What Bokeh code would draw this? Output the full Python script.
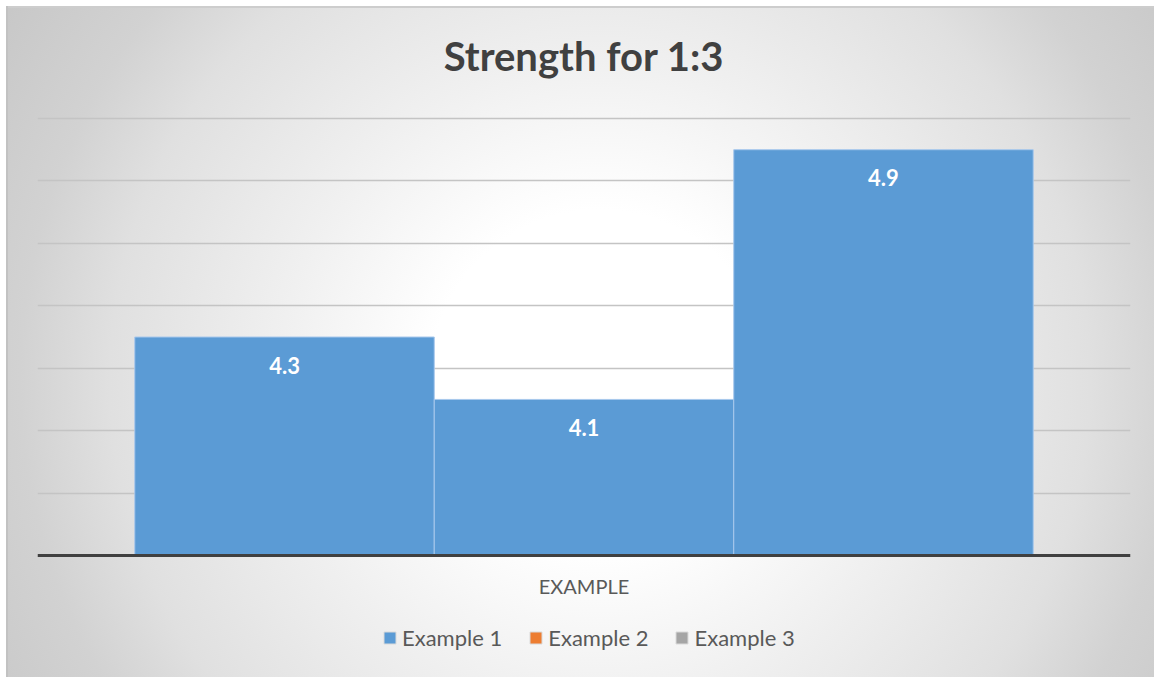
from bokeh.plotting import figure
from bokeh.models import (ColumnDataSource, FactorRange, Range1d, FixedTicker,
                          Label, Legend, LegendItem, Span)
from bokeh.transform import dodge
from bokeh.core.properties import value
from bokeh.embed import file_html
from bokeh.resources import INLINE

# --- data -----------------------------------------------------------------
title_text = "Strength for 1:3"
category = ["EXAMPLE"]
series = ["Example 1", "Example 2", "Example 3"]
strength = [4.3, 4.1, 4.9]
series_colors = ["#5B9BD5", "#ED7D31", "#A5A5A5"]
bar_color = "#5B9BD5"
y_ticks = [3.6, 3.8, 4.0, 4.2, 4.4, 4.6, 4.8, 5.0]

# --- layout / style -------------------------------------------------------
FONT = "Lato"
TEXT_DARK = "#404040"
TEXT_MID = "#595959"
BAR_W = 0.274
offsets = [-BAR_W, 0.0, BAR_W]

W, H = 1154, 677
TOP_PX = 118          # title strip above the value area
PLOT_PX = 437         # height of the value area
BELOW_PX = H - TOP_PX - PLOT_PX   # category label + legend strip
TITLE_Y = 55          # title centre, from the top of the canvas

span = y_ticks[-1] - y_ticks[0]
y_lo = y_ticks[0] - span * BELOW_PX / PLOT_PX
y_hi = y_ticks[-1] + span * TOP_PX / PLOT_PX

p = figure(width=W, height=H,
           x_range=FactorRange(*category),
           y_range=Range1d(y_lo, y_hi),
           output_backend="svg", toolbar_location=None,
           min_border_left=37, min_border_right=24,
           min_border_top=0, min_border_bottom=0)

p.background_fill_color = None
p.border_fill_color = None
p.outline_line_color = None
p.xaxis.visible = False
p.yaxis.visible = False
p.xgrid.grid_line_color = None

# soft radial backdrop of the chart box with its thin frame on the left/top
p.styles = {
    "background-color": "#ffffff",
    "background-image": (
        "linear-gradient(#c2c2c2, #c2c2c2), "
        "linear-gradient(#cdcdcd, #cdcdcd), "
        "radial-gradient(circle at 594px 374px, #ffffff 0px, #ffffff 170px, "
        "#f0f0f0 320px, #e0e0e0 490px, #d2d2d2 580px, #c6c6c6 720px)"
    ),
    "background-position": "6px 6px, 6px 6px, 6px 6px",
    "background-size": "2px 671px, 1148px 2px, 1148px 671px",
    "background-repeat": "no-repeat",
}

# horizontal gridlines above the baseline
p.ygrid.ticker = FixedTicker(ticks=y_ticks[1:])
p.ygrid.grid_line_color = "#c4c4c4"
p.ygrid.grid_line_width = 1.5

# bars with their value labels
for i, name in enumerate(series):
    src = ColumnDataSource(dict(cat=[category[0]], val=[strength[i]],
                                label=[f"{strength[i]:.1f}"]))
    xs = dodge("cat", offsets[i], range=p.x_range)
    p.vbar(x=xs, top="val", bottom=y_ticks[0], width=BAR_W, source=src,
           fill_color=bar_color, line_color="#a8c8ec", line_width=1)
    p.text(x=xs, y="val", text="label", source=src,
           text_color="white", text_font=value(FONT), text_font_style="bold",
           text_font_size="22px", text_align="center", text_baseline="middle",
           y_offset=28)

# category axis: baseline and its label
p.add_layout(Span(location=y_ticks[0], dimension="width",
                  line_color=TEXT_DARK, line_width=3))
cat_src = ColumnDataSource(dict(cat=category, y=[y_ticks[0]] * len(category)))
p.text(x="cat", y="y", text="cat", source=cat_src,
       text_color=TEXT_MID, text_font=value(FONT), text_font_size="20px",
       text_align="center", text_baseline="middle", y_offset=30)

# legend swatches (bars with no height value, only their style is shown)
items = []
for name, color in zip(series, series_colors):
    swatch = p.vbar(x=[category[0]], top=[float("nan")], bottom=y_ticks[0],
                    width=BAR_W, fill_color=color, line_color="#dadada",
                    line_width=1)
    items.append(LegendItem(label=name, renderers=[swatch]))

legend = Legend(items=items, orientation="horizontal", location=(345, 26),
                border_line_color=None, background_fill_color=None,
                label_text_font=FONT, label_text_font_size="22px",
                label_text_color=TEXT_MID, glyph_width=15, glyph_height=15,
                label_standoff=5, spacing=26, padding=0, margin=0)
p.add_layout(legend)

# chart title
p.add_layout(Label(x=(W - 37 - 24) / 2, y=H - TITLE_Y,
                   x_units="screen", y_units="screen",
                   text=title_text, text_align="center", text_baseline="middle",
                   text_font=FONT, text_font_style="bold",
                   text_font_size="40px", text_color=TEXT_DARK))

open("out.html", "w").write(file_html(p, INLINE))
